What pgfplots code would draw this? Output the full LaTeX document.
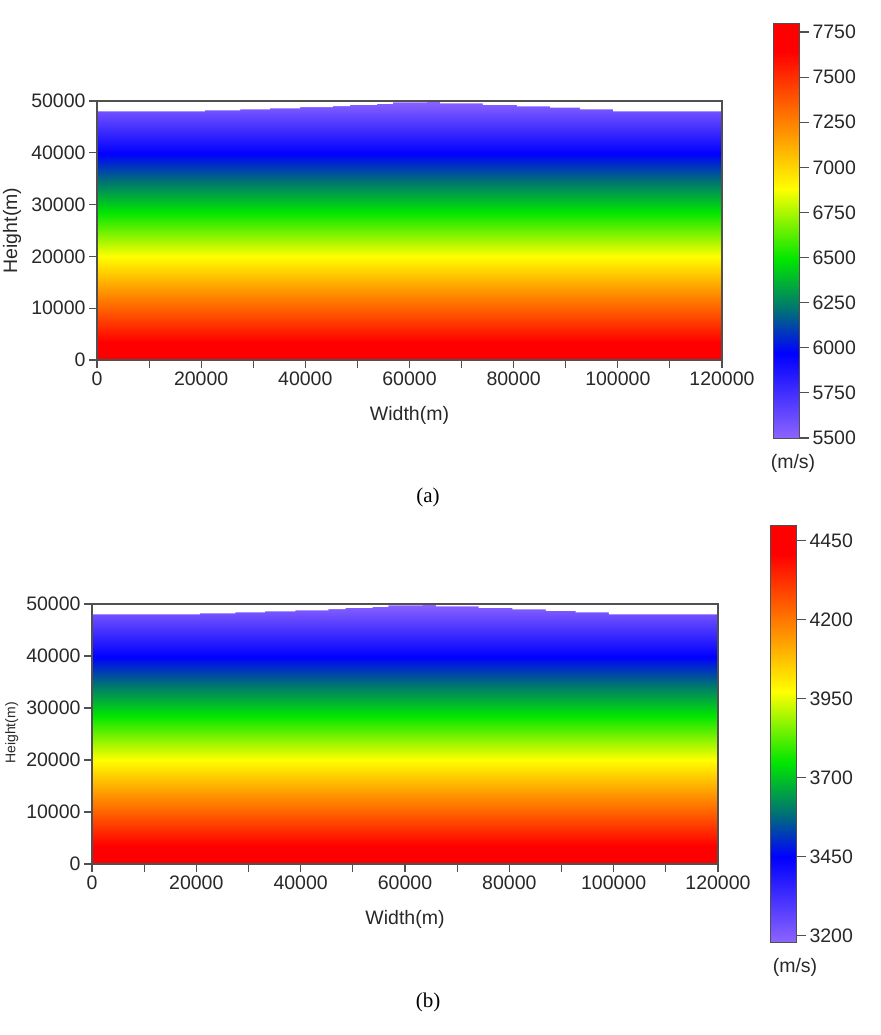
\documentclass[border=0pt]{standalone}
\usepackage{pgfplots}
\usepackage{pgfplotstable}
\pgfplotsset{compat=1.18}
\usepackage{fontspec}
\setmainfont{Liberation Sans}
\newfontfamily\capfont{Liberation Serif}

\definecolor{framegray}{RGB}{80,80,80}
\definecolor{textgray}{RGB}{40,40,40}

% stepped top surface (const plot, value holds until next x)
\pgfplotstableread{
x y
0 48000
20700 48200
27500 48400
33200 48600
39000 48800
45300 49000
48600 49250
53800 49450
56800 49750
63400 50000
65900 49550
74100 49250
80600 48950
87000 48700
92700 48400
99100 48000
120000 48000
}\topo

% velocity at bottom and top of the model (two triangles)
\pgfplotstableread{
x y v
0 0 7800
120000 0 7800
120000 50000 5500
0 0 7800
120000 50000 5500
0 50000 5500
}\velA

\pgfplotstableread{
x y v
0 0 4500
120000 0 4500
120000 50000 3180
0 0 4500
120000 50000 3180
0 50000 3180
}\velB

% colour bars
\pgfplotstableread{
x y v
0 5500 5500
1 5500 5500
1 7800 7800
0 5500 5500
1 7800 7800
0 7800 7800
}\barA

\pgfplotstableread{
x y v
0 3180 3180
1 3180 3180
1 4500 4500
0 3180 3180
1 4500 4500
0 4500 4500
}\barB

\newcommand{\tfont}{\fontsize{19.5bp}{22bp}\selectfont}
\newcommand{\cfont}{\capfont\fontsize{21bp}{24bp}\selectfont}

\pgfplotsset{
  colormap={velocity}{
    rgb255(0cm)=(140,100,255);
    rgb255(20.4cm)=(0,0,255);
    rgb255(31cm)=(0,115,115);
    rgb255(43cm)=(0,230,0);
    rgb255(60cm)=(255,255,0);
    rgb255(72cm)=(255,160,0);
    rgb255(93cm)=(255,0,0);
    rgb255(100cm)=(255,0,0)
  },
  velmodel/.style={
    scale only axis, axis on top,
    xmin=0, xmax=120000, ymin=0, ymax=50000,
    scaled ticks=false,
    tick align=outside, tick pos=left,
    major tick length=8bp,
    xtick={0,10000,...,120000},
    xticklabels={0,,20000,,40000,,60000,,80000,,100000,,120000},
    ytick={0,10000,...,50000},
    yticklabels={0,10000,20000,30000,40000,50000},
    ticklabel style={font=\tfont, text=textgray},
    axis line style={framegray, line width=1.1pt},
    tick style={framegray, line width=1.1pt},
    xlabel={Width(m)},
    label style={font=\tfont, text=textgray},
    xlabel style={at={(axis description cs:0.5,-0.215)}, anchor=center},
    colormap name=velocity,
  },
  cbar/.style={
    scale only axis, axis on top,
    anchor=south west,
    xmin=0, xmax=1, xtick=\empty,
    scaled ticks=false,
    tick align=outside, ytick pos=right, yticklabel pos=right,
    major tick length=10bp,
    tick style={framegray, line width=1.1pt},
    axis line style={framegray, line width=1pt},
    yticklabel style={font=\tfont, text=textgray},
    colormap name=velocity,
  },
}

\begin{document}
\begin{tikzpicture}
\path[use as bounding box] (0,0) rectangle (881bp,-1035bp);

% ---------- (a) ----------
\begin{axis}[velmodel,
  at={(97bp,-360bp)}, anchor=south west,
  width=625bp, height=259bp,
  ylabel={Height(m)},
  ylabel style={at={(axis description cs:-0.136,0.5)}, anchor=center},
  point meta min=5500, point meta max=7800,
]
\addplot[patch, shader=interp, point meta=explicit] table[meta=v] {\velA};
\addplot[const plot, fill=white, draw=none] table {\topo}
  -- (axis cs:120000,50000) -- (axis cs:0,50000) -- cycle;
\end{axis}

\begin{axis}[cbar,
  at={(773bp,-438bp)}, width=26bp, height=415bp,
  ymin=5500, ymax=7800,
  point meta min=5500, point meta max=7800,
  ytick={5500,5750,...,7750},
  yticklabels={5500,5750,6000,6250,6500,6750,7000,7250,7500,7750},
]
\addplot[patch, shader=interp, point meta=explicit] table[meta=v] {\barA};
\end{axis}
\node[font=\tfont, text=textgray] at (793bp,-463bp) {(m/s)};
\node[font=\cfont] at (428bp,-497bp) {(a)};

% ---------- (b) ----------
\begin{axis}[velmodel,
  at={(92bp,-864bp)}, anchor=south west,
  width=626bp, height=260bp,
  ylabel={Height(m)},
  ylabel style={at={(axis description cs:-0.128,0.504)}, anchor=center,
    font=\fontsize{14bp}{16bp}\selectfont},
  point meta min=3180, point meta max=4500,
]
\addplot[patch, shader=interp, point meta=explicit] table[meta=v] {\velB};
\addplot[const plot, fill=white, draw=none] table {\topo}
  -- (axis cs:120000,50000) -- (axis cs:0,50000) -- cycle;
\end{axis}

\begin{axis}[cbar,
  at={(770bp,-942bp)}, width=26bp, height=417bp,
  ymin=3180, ymax=4500,
  point meta min=3180, point meta max=4500,
  ytick={3200,3450,...,4450},
  yticklabels={3200,3450,3700,3950,4200,4450},
]
\addplot[patch, shader=interp, point meta=explicit] table[meta=v] {\barB};
\end{axis}
\node[font=\tfont, text=textgray] at (795bp,-967bp) {(m/s)};
\node[font=\cfont] at (428bp,-1002bp) {(b)};
\end{tikzpicture}
\end{document}
